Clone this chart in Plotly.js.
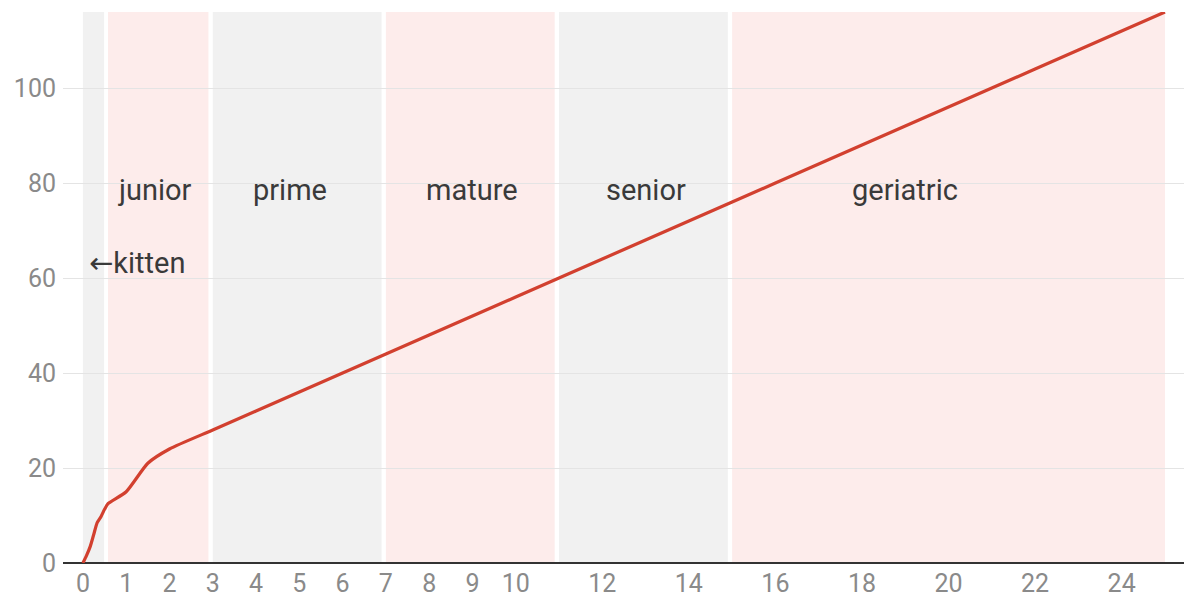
<!DOCTYPE html>
<html><head><meta charset="utf-8">
<script src="https://cdn.plot.ly/plotly-3.0.1.min.js"></script>
<style>html,body{margin:0;padding:0;background:#fff}#chart{width:1184px;height:597px}</style>
</head><body><div id="chart"></div>
<script>
// cat age (years) -> human age
const catAge   = [0, 0.08, 0.17, 0.25, 0.33, 0.42, 0.5, 0.58, 1, 1.5, 2, 3, 4, 5, 6, 7, 8, 9, 10, 11, 12, 13, 14, 15, 16, 17, 18, 19, 20, 21, 22, 23, 24, 25];
const humanAge = [0, 1.5, 3.5, 6, 8.5, 9.8, 11.3, 12.5, 15, 21, 24, 28, 32, 36, 40, 44, 48, 52, 56, 60, 64, 68, 72, 76, 80, 84, 88, 92, 96, 100, 104, 108, 112, 116];

const stageNames  = ["kitten", "junior", "prime", "mature", "senior", "geriatric"];
const stageStart  = [0, 0.58, 3, 7, 11, 15];
const stageEnd    = [0.49, 2.9, 6.9, 10.9, 14.9, 25];
const stageLabelX = [0.1, 1.66, 4.78, 8.99, 13.0, 19.0];
const stageLabelY = [63.2, 78.5, 78.5, 78.5, 78.5, 78.5];

const xTicks = [0, 1, 2, 3, 4, 5, 6, 7, 8, 9, 10, 12, 14, 16, 18, 20, 22, 24];
const yTicks = [0, 20, 40, 60, 80, 100];

const gray = "#f1f1f1", pink = "#fdeceb";
const shapes = stageNames.map((n, i) => ({
  type: "rect", xref: "x", yref: "y", layer: "below",
  x0: stageStart[i], x1: stageEnd[i], y0: 0, y1: 116,
  fillcolor: i % 2 === 0 ? gray : pink, line: {width: 0}
}));
const annotations = stageNames.map((n, i) => ({
  x: stageLabelX[i], y: stageLabelY[i], xref: "x", yref: "y",
  text: i === 0 ? "<span style=\"font-family:'DejaVu Sans'\">\u2190</span>" + n : n, showarrow: false,
  xanchor: i === 0 ? "left" : "center", yanchor: "middle",
  font: {family: "Roboto, sans-serif", size: 29, color: "#3a3a3a"}
}));

const trace = {
  x: catAge, y: humanAge, type: "scatter", mode: "lines",
  line: {color: "#d2402f", width: 3.2, shape: "spline", smoothing: 0.6},
  hoverinfo: "skip"
};

const layout = {
  width: 1184, height: 597,
  margin: {l: 63, r: 0, t: 12, b: 34, pad: 0},
  paper_bgcolor: "#fff", plot_bgcolor: "#fff",
  showlegend: false,
  font: {family: "Roboto, sans-serif"},
  xaxis: {
    range: [-0.46, 25.44], tickvals: xTicks, ticktext: xTicks.map(String),
    showgrid: false, zeroline: false, showline: false, ticks: "",
    tickfont: {size: 25, color: "#8a8a8a"}, ticklabelstandoff: 3
  },
  yaxis: {
    range: [0, 116], tickvals: yTicks, ticktext: yTicks.map(String),
    showgrid: true, gridcolor: "#e4e4e4", gridwidth: 1,
    zeroline: true, zerolinecolor: "#333", zerolinewidth: 2,
    showline: false, ticks: "",
    tickfont: {size: 25, color: "#8a8a8a"}, ticklabelstandoff: 6
  },
  shapes: shapes, annotations: annotations
};
Plotly.newPlot("chart", [trace], layout, {staticPlot: true, displayModeBar: false});
</script></body></html>
